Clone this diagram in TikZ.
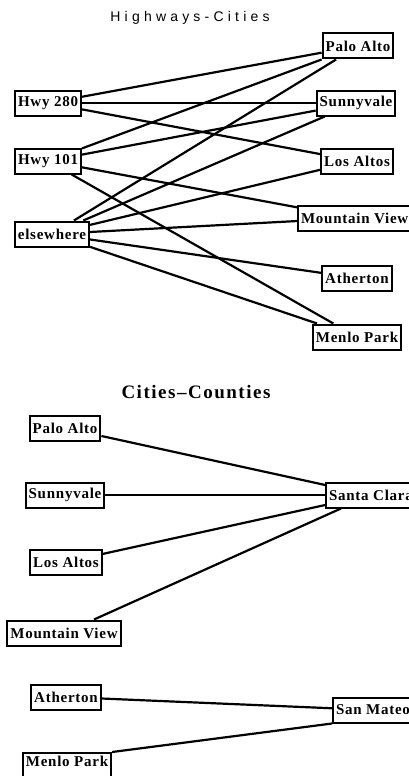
\documentclass[tikz,border=0pt]{standalone}
\usepackage{fontspec}
\setmainfont{Liberation Serif}
\newfontfamily\boxfont{Liberation Serif}[LetterSpace=5]
\newfontfamily\headsans{Liberation Sans}[LetterSpace=30]
\newfontfamily\headserif{Liberation Serif}[LetterSpace=8]
\tikzset{
    place/.style={draw, line width=2pt, inner xsep=3pt, inner ysep=0pt,
        minimum height=25pt, font=\boxfont\bfseries\fontsize{15}{17}\selectfont},
    link/.style={line width=2.2pt},
}
\begin{document}
\begin{tikzpicture}[x=1pt,y=-1pt]
        \useasboundingbox (0,0) rectangle (409,776);

        \begin{scope}
            \node[font=\headsans\fontsize{14}{16}\selectfont] (title1) at (190,18) {Highways-Cities};
            \node[place] (hwy280) at (48,103) {Hwy 280};
            \node[place] (hwy101) at (48,161) {Hwy 101};
            \node[place] (elsewhere) at (52,234) {elsewhere};
            \node[place] (paloalto) at (358,46) {Palo Alto};
            \node[place] (sunnyvale) at (356,103) {Sunnyvale};
            \node[place] (losaltos) at (357,161) {Los Altos};
            \node[place, anchor=west] (mtnview) at (297,218) {Mountain View};
            \node[place] (atherton) at (357,278) {Atherton};
            \node[place] (menlopark) at (357,337) {Menlo Park};
            \foreach \city in {paloalto, sunnyvale, losaltos}
                \draw[link] (hwy280) -- (\city);
            \foreach \city in {paloalto, sunnyvale, mtnview, menlopark}
                \draw[link] (hwy101) -- (\city);
            \foreach \city in {paloalto, sunnyvale, losaltos, mtnview, atherton, menlopark}
                \draw[link] (elsewhere) -- (\city);
        \end{scope}

        \begin{scope}
            \node[font=\headserif\bfseries\fontsize{19}{22}\selectfont] (title2) at (196,392) {Cities–Counties};
            \node[place] (paloalto2) at (65,428) {Palo Alto};
            \node[place] (sunnyvale2) at (65,495) {Sunnyvale};
            \node[place] (losaltos2) at (66,562) {Los Altos};
            \node[place] (mtnview2) at (64,633) {Mountain View};
            \node[place] (atherton2) at (66,697) {Atherton};
            \node[place, anchor=north, inner ysep=3pt, text depth=22pt] (menlopark2) at (67,752) {Menlo Park};
            \node[place, anchor=west] (santaclara) at (325,495) {Santa Clara};
            \node[place, anchor=west] (sanmateo) at (332,710) {San Mateo};
            \foreach \city in {paloalto2, sunnyvale2, losaltos2, mtnview2}
                \draw[link] (\city) -- (santaclara);
            \draw[link] (atherton2) -- (sanmateo);
            \draw[link] (menlopark2.north east) -- (sanmateo.south west);
        \end{scope}
    \end{tikzpicture}
\end{document}
